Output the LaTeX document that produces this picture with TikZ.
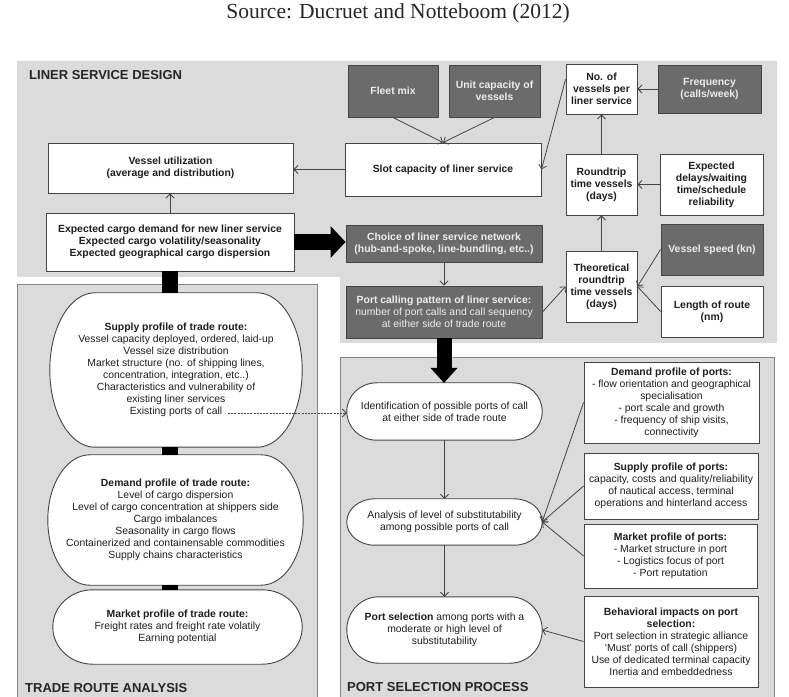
\documentclass[tikz,border=0pt]{standalone}
\usepackage{fontspec}
\setmainfont{Liberation Sans}
\newfontfamily\titlefont{Liberation Serif}
\usetikzlibrary{arrows.meta,calc}
\pgfdeclarelayer{bgwhite}
\pgfdeclarelayer{panel}
\pgfdeclarelayer{shape}
\pgfsetlayers{bgwhite,panel,shape,main}
\definecolor{panelgray}{HTML}{DBDBDB}
\definecolor{darkfill}{HTML}{6B6B6B}
\definecolor{edge}{HTML}{444444}
\definecolor{txt}{HTML}{1E1E1E}
\definecolor{lighttxt}{HTML}{EDEDED}
\definecolor{paneledge}{HTML}{858585}
\tikzset{
  sz/.style 2 args={minimum width=#1pt, minimum height=#2pt},
  base/.style={inner sep=0pt, align=center, text=txt, font=\fontsize{10.4}{12}\selectfont},
  whitebox/.style={base, draw=edge, fill=white, line width=0.9pt, font=\bfseries\fontsize{10.4}{12}\selectfont},
  darkbox/.style={base, draw=edge, fill=darkfill, line width=0.9pt, text=lighttxt, font=\bfseries\fontsize{10.4}{12}\selectfont},
  plainbox/.style={base, draw=edge, fill=white, line width=0.9pt},
  ovaltext/.style={base},
  ovalline/.style={draw=edge, fill=white, line width=0.9pt},
  conn/.style={draw=edge, line width=0.8pt, -{Straight Barb[length=4pt,width=8pt]}},
  header/.style={anchor=west, inner sep=0pt, text=black!85, font=\bfseries\fontsize{13}{15}\selectfont},
  thickarrow/.style={draw=black, line width=#1},
}
\newcommand{\ovalaround}[3]{%
  \begin{pgfonlayer}{shape}
  \draw[ovalline] ([xshift=#2pt]#1.north west) -- ([xshift=-#2pt]#1.north east)
    arc[start angle=90,end angle=0,x radius=#2pt,y radius=#3pt]
    -- ([yshift=#3pt]#1.south east)
    arc[start angle=0,end angle=-90,x radius=#2pt,y radius=#3pt]
    -- ([xshift=#2pt]#1.south west)
    arc[start angle=270,end angle=180,x radius=#2pt,y radius=#3pt]
    -- ([yshift=-#3pt]#1.north west)
    arc[start angle=180,end angle=90,x radius=#2pt,y radius=#3pt] -- cycle;
  \end{pgfonlayer}}
\begin{document}
\begin{tikzpicture}[x=1pt,y=1pt]
\begin{pgfonlayer}{bgwhite}
\fill[white] (0,0) rectangle (789,696);
\end{pgfonlayer}
\useasboundingbox (0,0) rectangle (789,696);

% panels
\begin{pgfonlayer}{panel}
\fill[panelgray] (17,696-61) -- (777,696-61) -- (777,696-343) -- (340,696-343)
  -- (340,696-277) -- (17,696-277) -- cycle;
\draw[fill=panelgray, draw=paneledge, line width=0.8pt] (17,696-284) rectangle (317,-5);
\draw[fill=panelgray, draw=paneledge, line width=0.8pt] (340,696-357) rectangle (774,-5);
\end{pgfonlayer}

% title and headers
\node[inner sep=0pt, anchor=base, text=black!85, font=\titlefont\fontsize{21.5}{25}\selectfont] (title) at (398,696-19) {Source: Ducruet and Notteboom (2012)};
\node[header] (hlsd) at (29,696-75) {LINER SERVICE DESIGN};
\node[header] (htra) at (25,696-688) {TRADE ROUTE ANALYSIS};
\node[header] (hpsp) at (347,696-687) {PORT SELECTION PROCESS};

% liner service design
\node[darkbox, sz={90}{52}] (fleet) at (393,696-91) {Fleet mix};
\node[darkbox, sz={91}{52}] (unitcap) at (494.5,696-91) {Unit capacity of\\vessels};
\node[whitebox, sz={71}{50}] (nov) at (601.5,696-89) {No. of\\vessels per\\liner service};
\node[darkbox, sz={103}{48}] (freq) at (709.5,696-89) {Frequency\\(calls/week)};
\node[whitebox, sz={196}{53}] (slot) at (443,696-169.5) {Slot capacity of liner service};
\node[whitebox, sz={71}{61}] (rt) at (601.5,696-184.5) {Roundtrip\\time vessels\\(days)};
\node[whitebox, sz={103}{61}] (delays) at (711.5,696-184.5) {Expected\\delays/waiting\\time/schedule\\reliability};
\node[whitebox, sz={245}{50}] (vu) at (170.5,696-168) {Vessel utilization\\(average and distribution)};
\node[whitebox, sz={248}{58}] (exp) at (170,696-242) {Expected cargo demand for new liner service\\Expected cargo volatility/seasonality\\Expected geographical cargo dispersion};
\node[darkbox, sz={196}{37}] (choice) at (444,696-243.5) {Choice of liner service network\\(hub-and-spoke, line-bundling, etc..)};
\node[darkbox, sz={196}{52}, font=\fontsize{10.4}{12}\selectfont] (pcp) at (444,696-312) {\textbf{Port calling pattern of liner service:}\\number of port calls and call sequency\\at either side of trade route};
\node[whitebox, sz={71}{71}] (theo) at (601.5,696-286.5) {Theoretical\\roundtrip\\time vessels\\(days)};
\node[darkbox, sz={102}{51}] (speed) at (712,696-249.5) {Vessel speed (kn)};
\node[whitebox, sz={102}{51}] (length) at (712,696-311.5) {Length of route\\(nm)};

\draw[conn] (fleet.south) -- (slot.north);
\draw[conn] (unitcap.south) -- (slot.north);
\draw[conn] (nov.165) -- (slot.east);
\draw[conn] (freq.west) -- (nov.east);
\draw[conn] (rt.north) -- (nov.south);
\draw[conn] (delays.west) -- (rt.east);
\draw[conn] (theo.north) -- (rt.south);
\draw[conn] (speed.west) -- (theo.east);
\draw[conn] (length.west) -- (theo.east);
\draw[conn] (pcp.east) -- (theo.west);
\draw[conn] (choice.south) -- (pcp.north);
\draw[conn] (slot.west) -- (slot.west -| vu.east);
\draw[conn] (exp.north) -- (exp.north |- vu.south);

% trade route analysis
\node[ovaltext, sz={252}{154}] (sup) at (176,696-370) {\textbf{Supply profile of trade route:}\\Vessel capacity deployed, ordered, laid-up\\Vessel size distribution\\Market structure (no. of shipping lines,\\concentration, integration, etc..)\\Characteristics and vulnerability of\\existing liner services\\Existing ports of call};
\ovalaround{sup}{45}{77}
\node[ovaltext, sz={255}{130}] (dem) at (175.5,696-520) {\textbf{Demand profile of trade route:}\\Level of cargo dispersion\\Level of cargo concentration at shippers side\\Cargo imbalances\\Seasonality in cargo flows\\Containerized and containensable commodities\\Supply chains characteristics};
\ovalaround{dem}{42}{65}
\node[ovaltext, sz={249}{74}] (mkt) at (177.5,696-627) {\textbf{Market profile of trade route:}\\Freight rates and freight rate volatily\\Earning potential};
\ovalaround{mkt}{40}{37}

% thick connectors
\draw[thickarrow=16pt, -{Triangle[length=15pt,width=31pt]}] (exp.east) -- (exp.east -| choice.west);
\draw[thickarrow=15pt, -{Triangle[length=15pt,width=26pt]}] (pcp.south) -- (pcp.south |- {(0,696-383)});
\draw[thickarrow=16pt] (exp.south) -- (exp.south |- sup.north);
\draw[thickarrow=16pt] (exp.south |- sup.south) -- (exp.south |- dem.north);
\draw[thickarrow=16pt] (exp.south |- dem.south) -- (exp.south |- mkt.north);

% port selection process
\node[ovaltext, sz={195}{57}] (ident) at (444.5,696-411.5) {Identification of possible ports of call\\at either side of trade route};
\ovalaround{ident}{30}{28.5}
\node[ovaltext, sz={195}{46}] (anal) at (444.5,696-522) {Analysis of level of substitutability\\among possible ports of call};
\ovalaround{anal}{28}{23}
\node[ovaltext, sz={195}{66}] (psel) at (444.5,696-630) {\textbf{Port selection} among ports with a\\moderate or high level of\\substitutability};
\ovalaround{psel}{32}{33}
\node[plainbox, sz={175}{81}] (dpp) at (671.5,696-402.5) {\textbf{Demand profile of ports:}\\- flow orientation and geographical\\specialisation\\- port scale and growth\\- frequency of ship visits,\\connectivity};
\node[plainbox, sz={174}{66}] (spp) at (671,696-486) {\textbf{Supply profile of ports:}\\capacity, costs and quality/reliability\\of nautical access, terminal\\operations and hinterland access};
\node[plainbox, sz={173}{64}] (mpp) at (670.5,696-556) {\textbf{Market profile of ports:}\\- Market structure in port\\- Logistics focus of port\\- Port reputation};
\node[plainbox, sz={174}{91}] (beh) at (671,696-641.5) {\textbf{Behavioral impacts on port}\\\textbf{selection:}\\Port selection in strategic alliance\\`Must' ports of call (shippers)\\Use of dedicated terminal capacity\\Inertia and embeddedness};

\draw[conn] (ident.south) -- (anal.north);
\draw[conn] (anal.south) -- (psel.north);
\draw[conn] (dpp.west) -- (anal.east);
\draw[conn] (spp.west) -- (anal.east);
\draw[conn] (mpp.west) -- (anal.east);
\draw[conn] (beh.west) -- (psel.east);

% dashed link
\coordinate (epc) at (228,696-413);
\draw[conn, dash pattern=on 2pt off 1.2pt] (epc) -- (epc -| ident.west);
\end{tikzpicture}
\end{document}
